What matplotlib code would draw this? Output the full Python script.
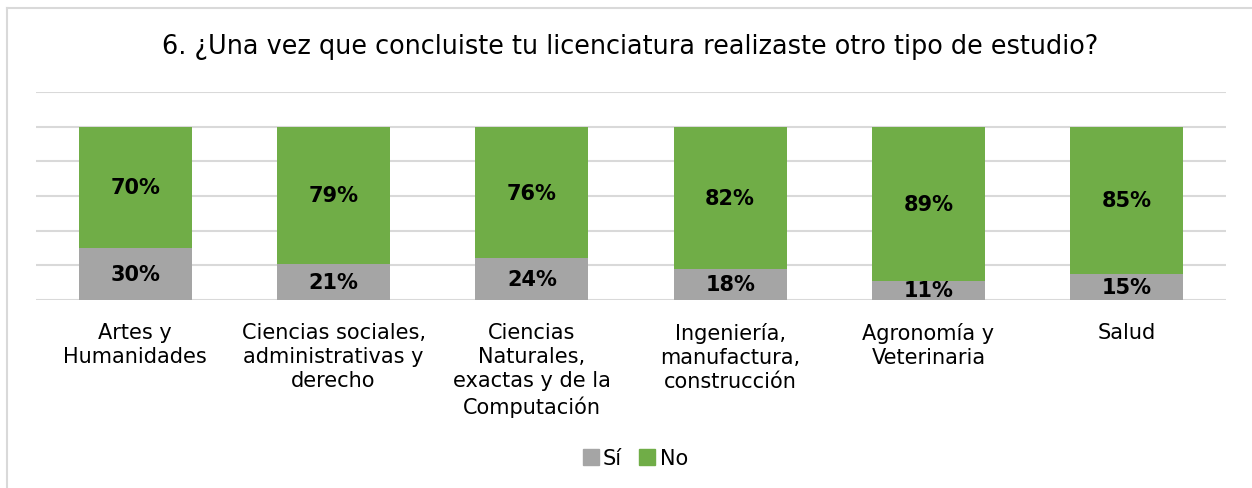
import matplotlib
matplotlib.use("Agg")
import matplotlib.pyplot as plt
from matplotlib.lines import Line2D

categories = ["Artes y\nHumanidades",
              "Ciencias sociales,\nadministrativas y\nderecho",
              "Ciencias\nNaturales,\nexactas y de la\nComputación",
              "Ingeniería,\nmanufactura,\nconstrucción",
              "Agronomía y\nVeterinaria",
              "Salud"]
si = [30, 21, 24, 18, 11, 15]
no = [70, 79, 76, 82, 89, 85]
series_names = ["Sí", "No"]
colors = ["#a5a5a5", "#70ad47"]

W, H = 1252, 489
fig = plt.figure(figsize=(W/100, H/100), dpi=100)
plt.rcParams['font.family'] = ['DejaVu Sans']

# plot area: x 36..1226, y 93..301 (pixels from top)
ax = fig.add_axes([36/W, 1-301/H, (1226-36)/W, (301-93)/H])
x = list(range(len(categories)))
bw = 0.57
ax.bar(x, si, width=bw, color=colors[0], label=series_names[0], zorder=3)
ax.bar(x, no, width=bw, bottom=si, color=colors[1], label=series_names[1], zorder=3)

for i in x:
    ax.text(i, si[i]/2, f"{si[i]}%", ha="center", va="center", fontsize=15,
            fontweight="bold", color="black", zorder=4)
    ax.text(i, si[i] + no[i]/2, f"{no[i]}%", ha="center", va="center", fontsize=15,
            fontweight="bold", color="black", zorder=4)

ax.set_xlim(-0.5, len(categories)-0.5)
ax.set_ylim(0, 120)
ax.set_yticks(range(0, 121, 20))
ax.yaxis.grid(True, color="#d9d9d9", linewidth=1.5, zorder=0)
ax.tick_params(axis="y", left=False, labelleft=False)
ax.tick_params(axis="x", bottom=False, pad=12)
ax.set_xticks(x)
ax.set_xticklabels(categories, fontsize=15, va="top", linespacing=1.28)
for s in ax.spines.values():
    s.set_visible(False)
ax.set_axisbelow(True)

fig.text(630/W, 1-47.5/H, "6. ¿Una vez que concluiste tu licenciatura realizaste otro tipo de estudio?",
         ha="center", va="center", fontsize=18.4)

handles = [Line2D([], [], marker="s", linestyle="none", markersize=11,
                  markerfacecolor=c, markeredgecolor=c) for c in colors]
fig.legend(handles, series_names, loc="center", bbox_to_anchor=(634/W, 1-459/H),
           ncol=2, frameon=False, fontsize=15, handletextpad=0.1, columnspacing=0.7,
           handlelength=1.0)

# outer border (top and left visible)
fig.add_artist(Line2D([7/W, 1], [1-9/H, 1-9/H], color="#d9d9d9", linewidth=1.5, transform=fig.transFigure))
fig.add_artist(Line2D([7/W, 7/W], [0, 1-9/H], color="#d9d9d9", linewidth=1.5, transform=fig.transFigure))

fig.savefig("out.png", dpi=100)
